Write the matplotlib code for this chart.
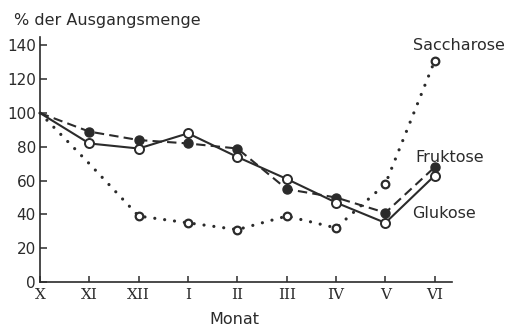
import matplotlib
matplotlib.use('Agg')
from matplotlib import pyplot as plt

# Monate (Roemische Zahlen)
months = ['X', 'XI', 'XII', 'I', 'II', 'III', 'IV', 'V', 'VI']

# % der Ausgangsmenge
glukose = [100, 82, 79, 88, 74, 61, 47, 35, 63]
fruktose = [100, 89, 84, 82, 79, 55, 50, 41, 68]
saccharose = [100, 70, 39, 35, 31, 39, 32, 58, 131]

ink = '#2b2b2b'
x = list(range(len(months)))

fig = plt.figure(figsize=(5.05, 3.28), dpi=100)
ax = fig.add_axes([40/505., 46/328., 412/505., 245/328.])

# Saccharose: dotted, markers from XII on
ax.plot(x, saccharose, color=ink, lw=2.3, linestyle=(0, (0.01, 3.1)),
        dash_capstyle='round', clip_on=False)
ax.plot(x[2:], saccharose[2:], 'o', ms=5.5,
        mfc='white', mec=ink, mew=1.6, clip_on=False)

# Fruktose: dashed, filled circles (none at start)
ax.plot(x, fruktose, color=ink, lw=1.5, linestyle=(0, (4.5, 2.5)),
        marker='o', ms=6.5, mfc=ink, mec=ink, markevery=x[1:], clip_on=False)

# Glukose: solid, open circles (none at start)
ax.plot(x, glukose, color=ink, lw=1.5, marker='o', ms=6.5,
        mfc='white', mec=ink, mew=1.4, markevery=x[1:], clip_on=False)

ax.set_xlim(0, 8.35)
ax.set_ylim(0, 145)
ax.set_yticks(range(0, 141, 20))
ax.set_xticks(x)
ax.set_xticklabels(months, family='DejaVu Serif', fontsize=11, color=ink)
for t in ax.get_yticklabels():
    t.set_fontsize(11)
    t.set_color(ink)

ax.spines['top'].set_visible(False)
ax.spines['right'].set_visible(False)
ax.spines['left'].set_color(ink)
ax.spines['bottom'].set_color(ink)
ax.spines['left'].set_linewidth(1.2)
ax.spines['bottom'].set_linewidth(1.2)
ax.tick_params(axis='y', direction='in', length=5, width=1.1, color=ink, pad=3)
ax.tick_params(axis='x', direction='in', length=4, width=1.1, color=ink, pad=4)

fig.text(14/505., 1 - 20/328., '% der Ausgangsmenge', fontsize=11.5,
         color=ink, va='center', ha='left')
fig.text(234/505., 1 - 320/328., 'Monat', fontsize=11.5, color=ink,
         va='center', ha='center')

fig.text(413/505., 1 - 45/328., 'Saccharose', fontsize=11.5, color=ink,
         ha='left', va='center')
fig.text(415/505., 1 - 157/328., 'Fruktose', fontsize=11.5, color=ink,
         ha='left', va='center')
fig.text(412/505., 1 - 213/328., 'Glukose', fontsize=11.5, color=ink,
         ha='left', va='center')

plt.savefig('out.png', dpi=100)
